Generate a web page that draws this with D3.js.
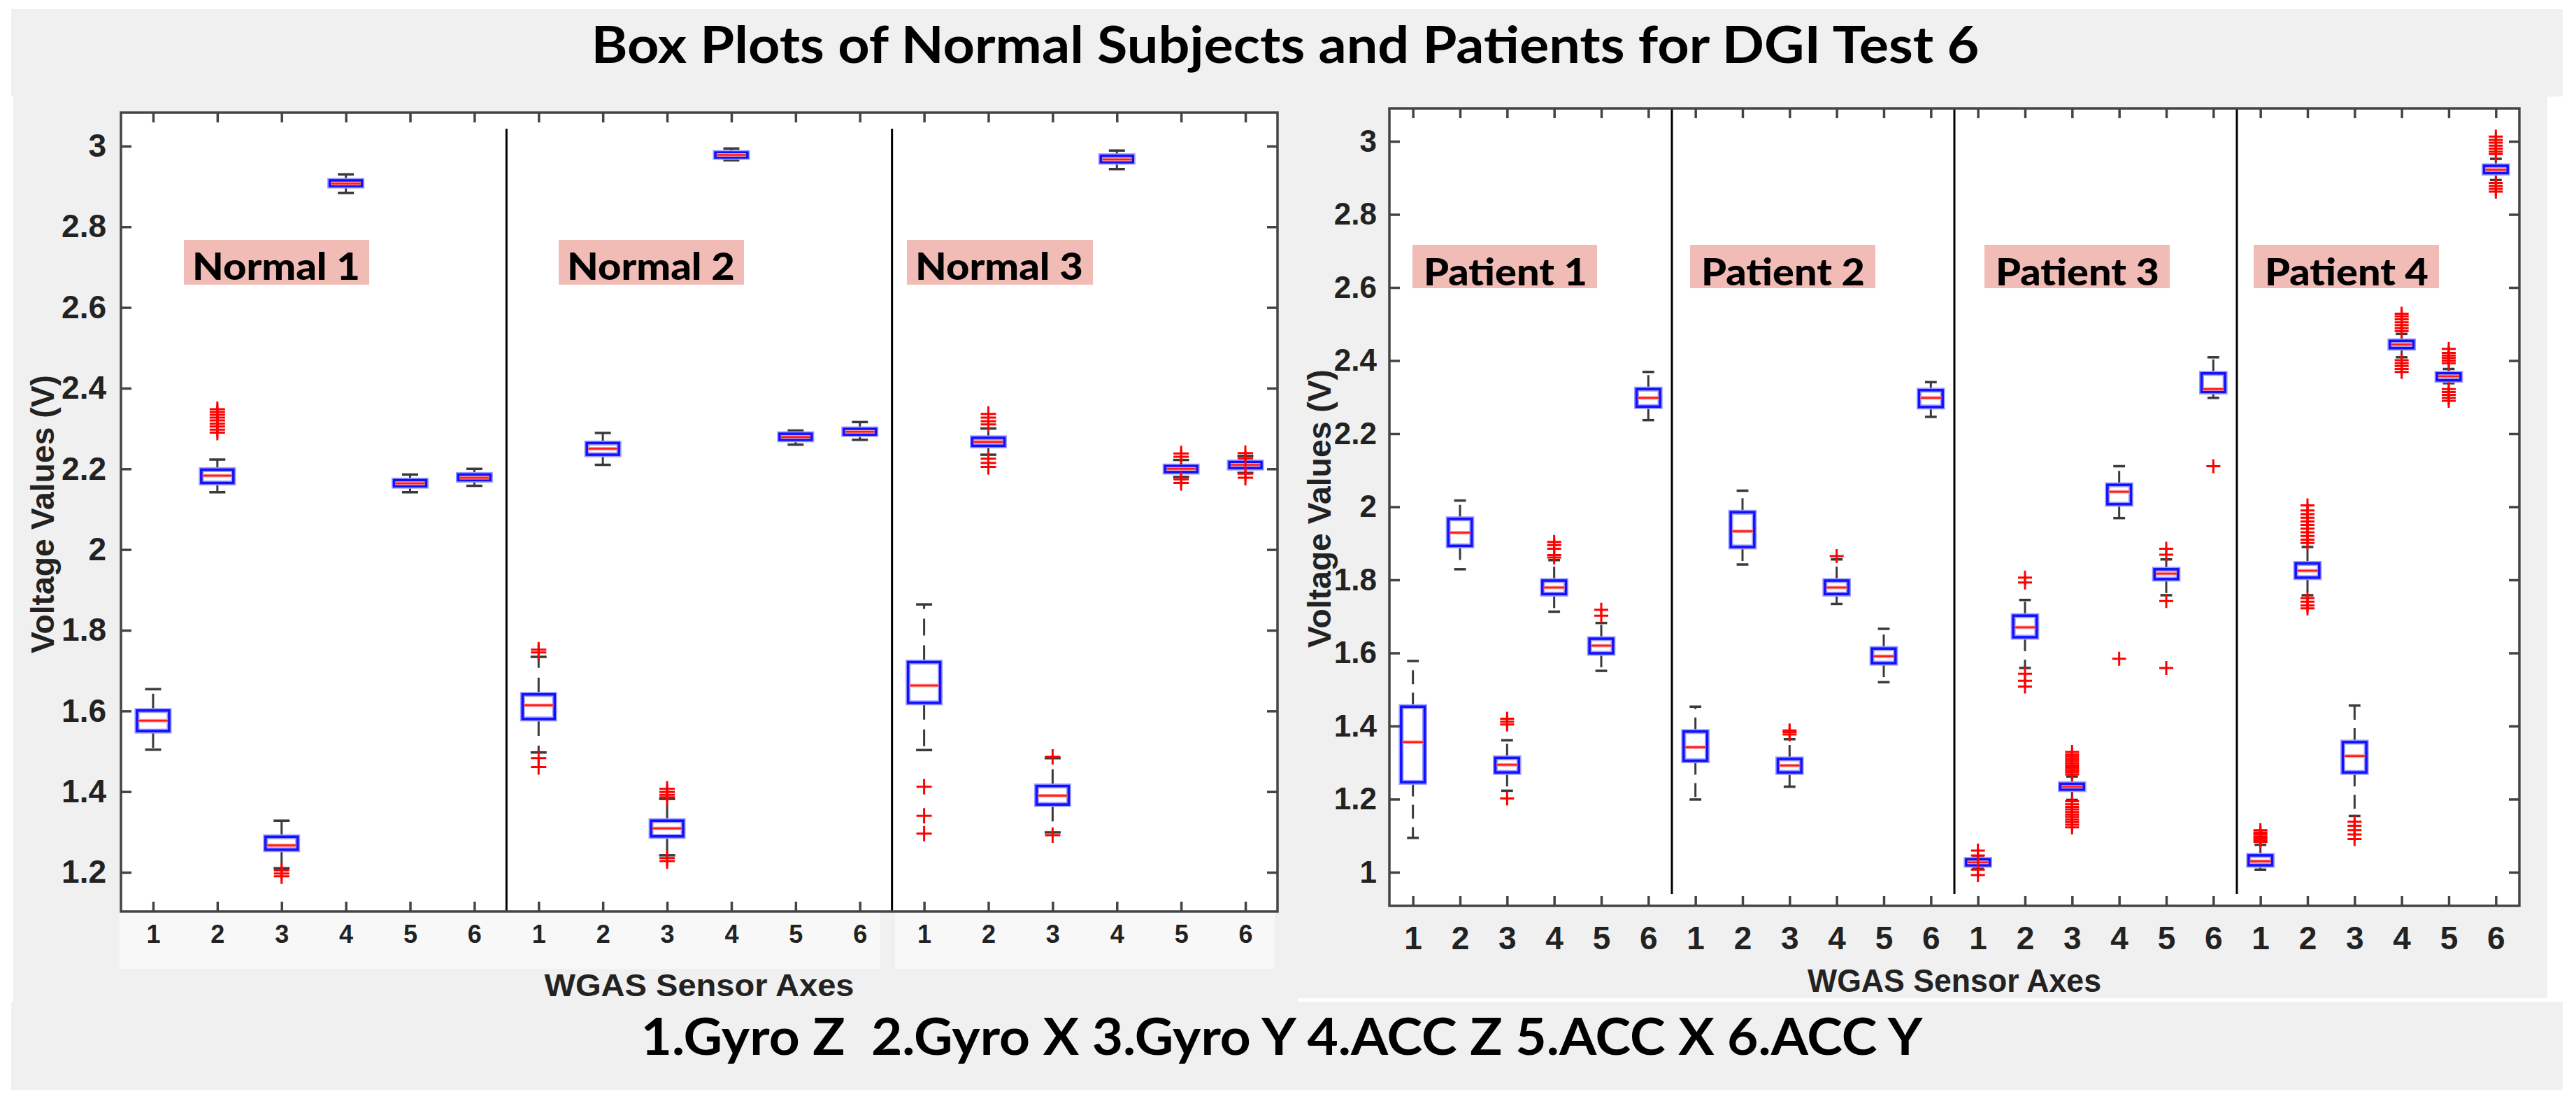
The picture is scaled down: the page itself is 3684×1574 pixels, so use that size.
<!DOCTYPE html>
<html><head><meta charset="utf-8">
<script src="https://cdn.jsdelivr.net/npm/d3@7"></script>
<style>body{margin:0;background:#fff} svg{display:block}</style>
</head><body>
<svg id="chart" width="3684" height="1574"></svg>
<script>
// ---------- DATA ----------
const axisLabels = ["1","2","3","4","5","6"];
const normalNames = ["Normal 1","Normal 2","Normal 3"];
const patientNames = ["Patient 1","Patient 2","Patient 3","Patient 4"];
const leftYTicks = [1.2,1.4,1.6,1.8,2,2.2,2.4,2.6,2.8,3];
const rightYTicks = [1,1.2,1.4,1.6,1.8,2,2.2,2.4,2.6,2.8,3];
const titleText = "Box Plots of Normal Subjects and Patients for DGI Test 6";
const legendText = "1.Gyro Z  2.Gyro X 3.Gyro Y 4.ACC Z 5.ACC X 6.ACC Y";
const xAxisTitle = "WGAS Sensor Axes";
const yAxisTitle = "Voltage Values (V)";

// stats per sensor axis: [lower whisker, q1, median, q3, upper whisker]
const normal1Stats = [[1.504,1.550,1.576,1.601,1.654],[2.142,2.165,2.183,2.198,2.223],[1.210,1.256,1.267,1.288,1.328],
  [2.884,2.901,2.907,2.915,2.930],[2.142,2.157,2.164,2.172,2.186],[2.158,2.172,2.178,2.186,2.200]];
const normal1Outliers = [[],[2.290,2.297,2.305,2.312,2.320,2.327,2.334,2.341,2.348],[1.205,1.197,1.190],[],[],[]];
const normal2Stats = [[1.497,1.580,1.614,1.641,1.734],[2.210,2.235,2.250,2.264,2.289],[1.242,1.289,1.309,1.328,1.382],
  [2.965,2.972,2.978,2.984,2.994],[2.260,2.272,2.279,2.287,2.295],[2.272,2.285,2.292,2.299,2.316]];
const normal2Outliers = [[1.745,1.752,1.483,1.461],[],[1.386,1.392,1.399,1.407,1.235,1.228],[],[],[]];
const normal3Stats = [[1.503,1.620,1.663,1.721,1.864],[2.235,2.257,2.267,2.277,2.300],[1.299,1.368,1.390,1.414,1.483],
  [2.943,2.960,2.967,2.976,2.989],[2.180,2.192,2.200,2.207,2.222],[2.190,2.202,2.210,2.217,2.232]];
const normal3Outliers = [[1.412,1.340,1.296],[2.310,2.318,2.327,2.336,2.225,2.215,2.205],[1.486,1.292],[],
  [2.230,2.238,2.174,2.165],[2.239,2.226,2.188,2.178]];

const patient1Stats = [[1.094,1.246,1.356,1.453,1.578],[1.829,1.893,1.929,1.967,2.017],[1.223,1.273,1.294,1.313,1.361],
  [1.713,1.761,1.779,1.798,1.854],[1.551,1.599,1.620,1.639,1.682],[2.237,2.274,2.298,2.322,2.369]];
const patient1Outliers = [[],[],[1.404,1.412,1.420,1.202],[1.861,1.868,1.885,1.895,1.904],[1.702,1.718],[]];
const patient2Stats = [[1.199,1.305,1.342,1.385,1.453],[1.842,1.890,1.933,1.985,2.044],[1.234,1.273,1.292,1.310,1.364],
  [1.734,1.761,1.779,1.798,1.856],[1.520,1.572,1.591,1.612,1.666],[2.246,2.273,2.298,2.319,2.341]];
const patient2Outliers = [[],[],[1.377,1.383,1.388],[1.865],[],[]];
const patient3Stats = [[1.012,1.019,1.027,1.035,1.040],[1.559,1.643,1.670,1.702,1.745],[1.198,1.226,1.234,1.242,1.262],
  [1.969,2.007,2.041,2.060,2.111],[1.758,1.802,1.817,1.829,1.856],[2.298,2.314,2.322,2.365,2.409]];
const patient3Outliers = [[1.046,1.059,1.007,0.992],[1.793,1.806,1.543,1.524,1.508],
  [1.268,1.274,1.280,1.286,1.292,1.298,1.304,1.310,1.316,1.322,1.329,1.123,1.130,1.137,1.144,1.151,1.158,1.165,1.172,1.179,1.186,1.194],
  [1.584],[1.869,1.885,1.742,1.559],[2.111]];
const patient4Stats = [[1.007,1.019,1.030,1.046,1.075],[1.758,1.806,1.825,1.845,1.890],[1.154,1.273,1.318,1.356,1.456],
  [2.409,2.434,2.444,2.454,2.473],[2.338,2.346,2.357,2.365,2.377],[2.894,2.913,2.922,2.933,2.952]];
const patient4Outliers = [[1.083,1.088,1.093,1.098,1.104,1.109,1.115],
  [1.901,1.910,1.920,1.930,1.940,1.950,1.960,1.970,1.980,1.990,2.004,1.750,1.740,1.730,1.722],
  [1.138,1.127,1.115,1.103,1.091],
  [2.481,2.489,2.497,2.505,2.513,2.521,2.528,2.401,2.393,2.385,2.377,2.369],
  [2.393,2.400,2.407,2.414,2.421,2.432,2.322,2.314,2.306,2.298,2.290],
  [2.965,2.972,2.980,2.988,2.996,3.004,3.013,2.886,2.878,2.870,2.862]];

// ---------- DRAW ----------
const svg = d3.select("#chart");
const GRAY = "#f0f0f0";
const SANS = "'Liberation Sans', Arial, sans-serif";
const TITLEFONT = "Lato, 'Open Sans', sans-serif";

// backgrounds
svg.append("rect").attr("x",16).attr("y",13).attr("width",3649).attr("height",125).attr("fill",GRAY);
svg.append("rect").attr("x",19).attr("y",137).attr("width",1837).attr("height",1295).attr("fill",GRAY);
svg.append("rect").attr("x",1856).attr("y",137).attr("width",1787).attr("height",1290).attr("fill",GRAY);
svg.append("rect").attr("x",16).attr("y",1432).attr("width",3649).attr("height",126).attr("fill",GRAY);

svg.append("text").attr("x",1838).attr("y",90).attr("text-anchor","middle")
  .attr("font-family",TITLEFONT).attr("font-weight","bold").attr("font-size",72)
  .attr("textLength",1985).attr("lengthAdjust","spacingAndGlyphs").text(titleText);
svg.append("text").attr("x",1833).attr("y",1508).attr("text-anchor","middle")
  .attr("font-family",TITLEFONT).attr("font-weight","bold").attr("font-size",72)
  .style("white-space","pre")
  .attr("textLength",1833).attr("lengthAdjust","spacingAndGlyphs").text(legendText);

function drawPanel(cfg) {
  const n = cfg.stats.length * 6;
  const x = d3.scaleLinear().domain([0.5, n + 0.5]).range([cfg.x0, cfg.x1]);
  const y = d3.scaleLinear().domain(cfg.yDomain).range([cfg.y1, cfg.y0]);
  const g = svg.append("g");
  const step = x(2) - x(1);

  // label strips
  (cfg.strips || []).forEach(s => g.append("rect").attr("x", s[0]).attr("y", cfg.y1 + 1)
     .attr("width", s[1] - s[0]).attr("height", 81).attr("fill", "#f8f8f8"));

  g.append("rect").attr("x", cfg.x0).attr("y", cfg.y0).attr("width", cfg.x1 - cfg.x0)
    .attr("height", cfg.y1 - cfg.y0).attr("fill", "#fff");

  // separators
  for (let k = 1; k < cfg.stats.length; k++) {
    g.append("line").attr("x1", x(k * 6 + 0.5)).attr("x2", x(k * 6 + 0.5))
      .attr("y1", cfg.sepTop).attr("y2", cfg.sepBottom).attr("stroke", "#000").attr("stroke-width", 3);
  }

  // boxes
  const capHalf = 0.125, boxHalf = 0.25;
  cfg.stats.forEach((subj, si) => {
    subj.forEach((st, j) => {
      const pos = si * 6 + j + 1;
      const cx = x(pos);
      const [lo, q1, med, q3, hi] = st;
      const bg = g.append("g");
      // whiskers (dashed)
      bg.append("line").attr("x1", cx).attr("x2", cx).attr("y1", y(q3)).attr("y2", y(hi))
        .attr("stroke", "#3a3a3a").attr("stroke-width", 3).attr("stroke-dasharray", cfg.dash);
      bg.append("line").attr("x1", cx).attr("x2", cx).attr("y1", y(q1)).attr("y2", y(lo))
        .attr("stroke", "#3a3a3a").attr("stroke-width", 3).attr("stroke-dasharray", cfg.dash);
      [lo, hi].forEach(v => bg.append("line").attr("x1", x(pos - capHalf)).attr("x2", x(pos + capHalf))
        .attr("y1", y(v)).attr("y2", y(v)).attr("stroke", "#3a3a3a").attr("stroke-width", 3.5));
      // box
      bg.append("rect").attr("x", x(pos - boxHalf)).attr("y", y(q3)).attr("width", x(pos + boxHalf) - x(pos - boxHalf))
        .attr("height", Math.max(y(q1) - y(q3), 1)).attr("fill", "#fff")
        .attr("stroke", "#9a9aff").attr("stroke-width", 7);
      bg.append("rect").attr("x", x(pos - boxHalf)).attr("y", y(q3)).attr("width", x(pos + boxHalf) - x(pos - boxHalf))
        .attr("height", Math.max(y(q1) - y(q3), 1)).attr("fill", "none")
        .attr("stroke", "#1010ff").attr("stroke-width", 3.5);
      // median
      bg.append("line").attr("x1", x(pos - boxHalf) + 2).attr("x2", x(pos + boxHalf) - 2)
        .attr("y1", y(med)).attr("y2", y(med)).attr("stroke", "#ff9a9a").attr("stroke-width", 5);
      bg.append("line").attr("x1", x(pos - boxHalf) + 2).attr("x2", x(pos + boxHalf) - 2)
        .attr("y1", y(med)).attr("y2", y(med)).attr("stroke", "#ff1a1a").attr("stroke-width", 2.5);
      // outliers
      const s = cfg.plus;
      cfg.outliers[si][j].forEach(v => {
        const py = y(v);
        bg.append("path").attr("d", `M${cx - s},${py}H${cx + s}M${cx},${py - s}V${py + s}`)
          .attr("stroke", "#ff0000").attr("stroke-width", 3).attr("fill", "none");
      });
    });
  });

  // axes
  const posTicks = d3.range(1, n + 1);
  const axColor = "#444";
  const styleAxis = (sel, fs) => {
    sel.select(".domain").remove();
    sel.selectAll(".tick line").attr("stroke", axColor).attr("stroke-width", 3.5);
    sel.selectAll(".tick text").attr("fill", "#222").attr("font-family", SANS)
      .attr("font-weight", "bold").attr("font-size", fs);
  };
  g.append("g").attr("transform", `translate(0,${cfg.y1})`)
    .call(d3.axisBottom(x).tickValues(posTicks).tickSizeInner(-14).tickSizeOuter(0)
      .tickPadding(cfg.xPad).tickFormat(d => axisLabels[(d - 1) % 6]))
    .call(sel => styleAxis(sel, cfg.xFs));
  g.append("g").attr("transform", `translate(0,${cfg.y0})`)
    .call(d3.axisTop(x).tickValues(posTicks).tickSizeInner(-14).tickSizeOuter(0).tickFormat(""))
    .call(sel => styleAxis(sel, 10));
  g.append("g").attr("transform", `translate(${cfg.x0},0)`)
    .call(d3.axisLeft(y).tickValues(cfg.yTicks).tickSizeInner(-15).tickSizeOuter(0)
      .tickPadding(cfg.yPad).tickFormat(d => String(d)))
    .call(sel => styleAxis(sel, cfg.yFs));
  g.append("g").attr("transform", `translate(${cfg.x1},0)`)
    .call(d3.axisRight(y).tickValues(cfg.yTicks).tickSizeInner(-15).tickSizeOuter(0).tickFormat(""))
    .call(sel => styleAxis(sel, 10));
  g.append("rect").attr("x", cfg.x0).attr("y", cfg.y0).attr("width", cfg.x1 - cfg.x0)
    .attr("height", cfg.y1 - cfg.y0).attr("fill", "none").attr("stroke", axColor).attr("stroke-width", 3.5);

  // axis titles
  g.append("text").attr("transform", `translate(${cfg.yTitleX},${cfg.yTitleY}) rotate(-90)`)
    .attr("text-anchor", "middle").attr("font-family", SANS).attr("font-weight", "bold")
    .attr("font-size", cfg.yTitleFs).attr("fill", "#222")
    .attr("textLength", cfg.yTitleLen).attr("lengthAdjust", "spacingAndGlyphs").text(yAxisTitle);
  g.append("text").attr("x", cfg.xTitleX).attr("y", cfg.xTitleY).attr("text-anchor", "middle")
    .attr("font-family", SANS).attr("font-weight", "bold").attr("font-size", cfg.xTitleFs).attr("fill", "#222")
    .attr("textLength", cfg.xTitleLen).attr("lengthAdjust", "spacingAndGlyphs").text(xAxisTitle);

  // subject labels
  cfg.names.forEach((nm, i) => {
    const L = cfg.labels[i];
    g.append("rect").attr("x", L[0]).attr("y", cfg.labelY0).attr("width", L[1] - L[0])
      .attr("height", cfg.labelY1 - cfg.labelY0).attr("fill", "#f2bcb6");
    g.append("text").attr("x", L[0] + cfg.labelPad).attr("y", cfg.labelBase)
      .attr("font-family", TITLEFONT).attr("font-weight", "900").attr("font-size", cfg.labelFs)
      .attr("fill", "#000").attr("textLength", cfg.labelLen).attr("lengthAdjust", "spacingAndGlyphs").text(nm);
  });
}

drawPanel({
  stats: [normal1Stats, normal2Stats, normal3Stats],
  outliers: [normal1Outliers, normal2Outliers, normal3Outliers],
  names: normalNames,
  x0: 173, x1: 1827, y0: 161, y1: 1303, yDomain: [1.103, 3.083], yTicks: leftYTicks,
  sepTop: 184, sepBottom: 1303, dash: "24,14", plus: 11,
  strips: [[171, 714], [714, 1258], [1280, 1823]],
  xPad: 19, xFs: 36, yPad: 21, yFs: 46,
  yTitleX: 77, yTitleY: 735, yTitleFs: 46, yTitleLen: 398,
  xTitleX: 1000, xTitleY: 1424, xTitleFs: 44, xTitleLen: 443,
  labels: [[263, 528], [799, 1064], [1297, 1563]], labelY0: 343, labelY1: 407,
  labelPad: 12, labelBase: 400, labelFs: 53, labelLen: 240
});

drawPanel({
  stats: [patient1Stats, patient2Stats, patient3Stats, patient4Stats],
  outliers: [patient1Outliers, patient2Outliers, patient3Outliers, patient4Outliers],
  names: patientNames,
  x0: 1987, x1: 3603, y0: 155, y1: 1295, yDomain: [0.908, 3.09], yTicks: rightYTicks,
  sepTop: 155, sepBottom: 1278, dash: "20,12", plus: 10,
  strips: [],
  xPad: 29, xFs: 46, yPad: 18, yFs: 44,
  yTitleX: 1903, yTitleY: 727, yTitleFs: 46, yTitleLen: 398,
  xTitleX: 2795, xTitleY: 1418, xTitleFs: 46, xTitleLen: 420,
  labels: [[2020, 2284], [2417, 2682], [2838, 3103], [3223, 3488]], labelY0: 350, labelY1: 412,
  labelPad: 16, labelBase: 408, labelFs: 54, labelLen: 234
});
</script>
</body></html>
